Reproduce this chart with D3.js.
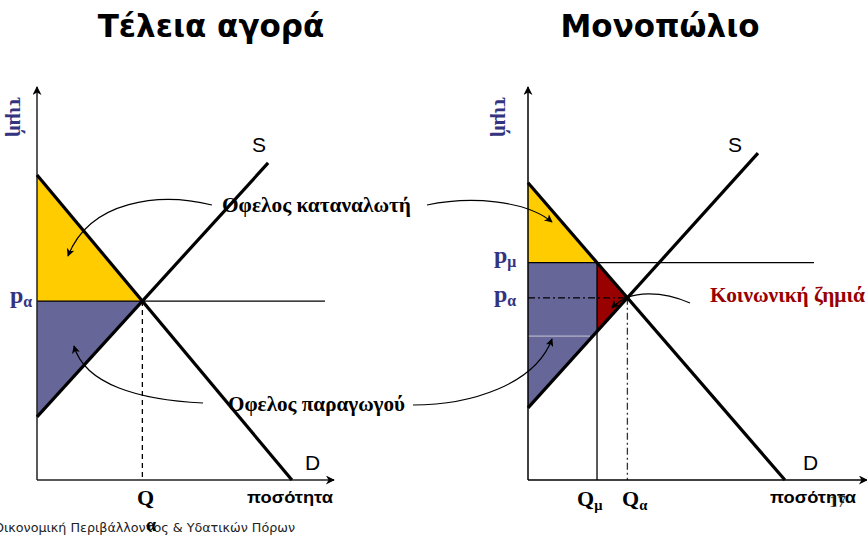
<!DOCTYPE html>
<html><head><meta charset="utf-8">
<script src="https://cdn.jsdelivr.net/npm/d3@7"></script>
<style>body{margin:0;background:#fff}svg{display:block}</style>
</head><body>
<svg id="c" width="867" height="537"></svg>
<script>
// ---------- data ----------
const titles = ["Τέλεια αγορά", "Μονοπώλιο"];
const priceLabel = "τιμή";
const quantityLabel = "ποσότητα";
// lines as [quantity, price] end points (units 0..10)
const demandLeft  = [[0, 7.82], [8.79, 0]];
const supplyLeft  = [[0, 1.62], [7.97, 8.13]];
const demandRight = [[0, 7.62], [8.86, 0]];
const supplyRight = [[0, 1.85], [7.93, 8.38]];
const qMonopoly = 2.38;
const priceLineEnd = [9.93, 9.86];
const innerLinePrice = 3.69;
const annotations = ["Οφελος καταναλωτή", "Οφελος παραγωγού", "Κοινωνική ζημιά"];
const footerText = "Οικονομική Περιβάλλοντος & Υδατικών Πόρων";
const pageNo = "17";

// ---------- layout ----------
const W = 867, H = 537;
const Y0 = 480, YTOP = 90;
const yS = d3.scaleLinear().domain([0, 10]).range([Y0, YTOP]);
const xL = d3.scaleLinear().domain([0, 10]).range([37, 327]);
const xR = d3.scaleLinear().domain([0, 10]).range([528, 818]);
const YELLOW = "#FFCC00", VIOLET = "#666699", RED = "#990000", NAVY = "#333380";
const SERIF = "'Liberation Serif','Times New Roman',serif";
const SANS = "'Liberation Sans',Arial,sans-serif";
const VERD = "'DejaVu Sans',Verdana,sans-serif";

const svg = d3.select("#c");
svg.append("rect").attr("width", W).attr("height", H).attr("fill", "#fff");
const defs = svg.append("defs");
defs.append("marker").attr("id", "axArrow").attr("markerUnits", "userSpaceOnUse")
  .attr("viewBox", "0 0 10 10").attr("refX", 9).attr("refY", 5)
  .attr("markerWidth", 11).attr("markerHeight", 9).attr("orient", "auto")
  .append("path").attr("d", "M0,0 L10,5 L0,10 L3,5 Z").attr("fill", "#000");
defs.append("marker").attr("id", "smArrow").attr("markerUnits", "userSpaceOnUse")
  .attr("viewBox", "0 0 10 10").attr("refX", 9).attr("refY", 5)
  .attr("markerWidth", 10).attr("markerHeight", 8).attr("orient", "auto")
  .append("path").attr("d", "M0,0 L10,5 L0,10 L2.5,5 Z").attr("fill", "#000");

const priceAt = (ln, q) => ln[0][1] + (ln[1][1] - ln[0][1]) * (q - ln[0][0]) / (ln[1][0] - ln[0][0]);
const qAt = (ln, p) => ln[0][0] + (ln[1][0] - ln[0][0]) * (p - ln[0][1]) / (ln[1][1] - ln[0][1]);
function intersect(a, b) {
  const sa = (a[1][1] - a[0][1]) / (a[1][0] - a[0][0]);
  const sb = (b[1][1] - b[0][1]) / (b[1][0] - b[0][0]);
  const q = (priceAt(b, 0) - priceAt(a, 0)) / (sa - sb);
  return [q, priceAt(a, q)];
}
function poly(g, x, pts, fill) {
  g.append("path").attr("d", "M" + pts.map(d => x(d[0]) + "," + yS(d[1])).join("L") + "Z")
    .attr("fill", fill).attr("stroke", "none");
}
function seg(g, x, a, b, w, dash, col) {
  g.append("line").attr("x1", x(a[0])).attr("y1", yS(a[1])).attr("x2", x(b[0])).attr("y2", yS(b[1]))
    .attr("stroke", col || "#000").attr("stroke-width", w).attr("stroke-dasharray", dash || null);
}
function axes(g, x, xEnd, col) {
  g.append("line").attr("x1", x(0)).attr("y1", Y0).attr("x2", x(0)).attr("y2", 87)
    .attr("stroke", col).attr("stroke-width", 1.5).attr("marker-end", "url(#axArrow)");
  g.append("line").attr("x1", x(0)).attr("y1", Y0).attr("x2", xEnd).attr("y2", Y0)
    .attr("stroke", col).attr("stroke-width", 1.5).attr("marker-end", "url(#axArrow)");
}
function subLabel(g, xp, yb, main, sub, size, col) {
  const t = g.append("text").attr("x", xp).attr("y", yb).attr("font-family", SERIF)
    .attr("font-weight", "bold").attr("font-size", size).attr("fill", col);
  t.append("tspan").text(main);
  if (sub) t.append("tspan").attr("font-size", size * 0.66).attr("dy", 4).text(sub);
}
function boldSerif(xp, yb, txt, size, len, col) {
  svg.append("text").attr("x", xp).attr("y", yb).attr("font-family", SERIF).attr("font-weight", "bold")
    .attr("font-size", size).attr("fill", col || "#000")
    .attr("textLength", len).attr("lengthAdjust", "spacingAndGlyphs").text(txt);
}

// ---------- titles ----------
svg.append("text").attr("x", 211).attr("y", 37).attr("text-anchor", "middle")
  .attr("font-family", VERD).attr("font-weight", "bold").attr("font-size", 31).text(titles[0]);
svg.append("text").attr("x", 660).attr("y", 37).attr("text-anchor", "middle")
  .attr("font-family", VERD).attr("font-weight", "bold").attr("font-size", 31).text(titles[1]);

// ---------- left panel ----------
const gL = svg.append("g");
const eL = intersect(demandLeft, supplyLeft);
poly(gL, xL, [demandLeft[0], eL, [0, eL[1]]], YELLOW);
poly(gL, xL, [[0, eL[1]], eL, supplyLeft[0]], VIOLET);
seg(gL, xL, [0, eL[1]], [priceLineEnd[0], eL[1]], 1.3);
seg(gL, xL, eL, [eL[0], 0], 1.3, "5,4");
axes(gL, xL, 334, "#222");
seg(gL, xL, demandLeft[0], demandLeft[1], 3.2);
seg(gL, xL, supplyLeft[0], supplyLeft[1], 3.2);

// ---------- right panel ----------
const gR = svg.append("g");
const eR = intersect(demandRight, supplyRight);
const pM = priceAt(demandRight, qMonopoly);
const sM = priceAt(supplyRight, qMonopoly);
poly(gR, xR, [demandRight[0], [qMonopoly, pM], [0, pM]], YELLOW);
poly(gR, xR, [[0, pM], [qMonopoly, pM], [qMonopoly, sM], supplyRight[0]], VIOLET);
poly(gR, xR, [[qMonopoly, pM], eR, [qMonopoly, sM]], RED);
seg(gR, xR, [0, innerLinePrice], [qAt(supplyRight, innerLinePrice) - 0.1, innerLinePrice], 1, null, "#c8c8d8");
seg(gR, xR, [0, pM], [priceLineEnd[1], pM], 1.3);
seg(gR, xR, [0, eR[1]], eR, 1.3, "7,3,2,3");
seg(gR, xR, eR, [eR[0], 0], 1.3, "7,3,2,3", "#333");
seg(gR, xR, [qMonopoly, pM], [qMonopoly, 0], 1.3);
axes(gR, xR, 867, "#000");
seg(gR, xR, demandRight[0], demandRight[1], 3.2);
seg(gR, xR, supplyRight[0], supplyRight[1], 3.2);

// ---------- line labels ----------
[[252, 152, "S"], [728, 152, "S"], [305, 470, "D"], [803, 470, "D"]].forEach(d => {
  svg.append("text").attr("x", d[0]).attr("y", d[1]).attr("font-family", SANS)
    .attr("font-size", 21).text(d[2]);
});

// ---------- axis labels ----------
[[17, 117], [502, 117]].forEach(c => {
  svg.append("text").attr("transform", `translate(${c[0]},${c[1]}) rotate(90)`)
    .attr("text-anchor", "middle").attr("dominant-baseline", "central")
    .attr("font-family", SERIF).attr("font-weight", "bold").attr("font-size", 21)
    .attr("fill", NAVY).text(priceLabel);
});
[[247, 503], [770, 503]].forEach(c => {
  svg.append("text").attr("x", c[0]).attr("y", c[1]).attr("font-family", SANS)
    .attr("font-weight", "bold").attr("font-size", 17).attr("textLength", 86)
    .attr("lengthAdjust", "spacingAndGlyphs").text(quantityLabel);
});
subLabel(svg, 10, 303, "p", "α", 24, NAVY);
subLabel(svg, 494, 263, "p", "μ", 24, NAVY);
subLabel(svg, 494, 302, "p", "α", 24, NAVY);
subLabel(svg, 137, 505, "Q", null, 22, "#000");
subLabel(svg, 577, 506, "Q", "μ", 22, "#000");
subLabel(svg, 622, 506, "Q", "α", 22, "#000");

// ---------- annotations ----------
boldSerif(222, 212, annotations[0], 21, 189);
boldSerif(228, 411, annotations[1], 21, 177);
boldSerif(710, 302, annotations[2], 20, 155, RED);

const curves = [
  [[212, 205], [160, 192], [90, 200], [68, 256]],
  [[427, 205], [470, 196], [525, 200], [552, 222]],
  [[203, 403], [140, 400], [85, 385], [74, 346]],
  [[413, 405], [470, 405], [535, 385], [552, 339]],
  [[690, 303], [665, 292], [630, 288], [612, 308]]
];
curves.forEach(c => {
  const p = d3.path();
  p.moveTo(c[0][0], c[0][1]);
  p.bezierCurveTo(c[1][0], c[1][1], c[2][0], c[2][1], c[3][0], c[3][1]);
  svg.append("path").attr("d", p.toString()).attr("fill", "none").attr("stroke", "#000")
    .attr("stroke-width", 1.2).attr("marker-end", "url(#smArrow)");
});

// ---------- footer ----------
svg.append("text").attr("x", -6).attr("y", 532).attr("font-family", VERD)
  .attr("font-size", 12.5).attr("fill", "#222").attr("textLength", 301)
  .attr("lengthAdjust", "spacingAndGlyphs").text(footerText);
svg.append("text").attr("x", 146).attr("y", 531).attr("font-family", SERIF).attr("font-weight", "bold")
  .attr("font-size", 18).text("α");
svg.append("text").attr("x", 829).attr("y", 507).attr("font-family", SERIF)
  .attr("font-size", 17).attr("fill", "#333").text(pageNo);
</script>
</body></html>
